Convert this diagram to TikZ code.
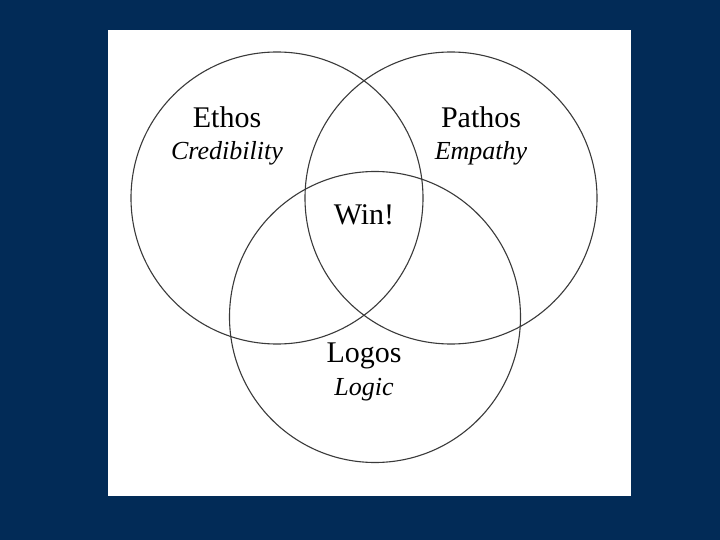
\documentclass[tikz,border=0pt]{standalone}
\usepackage{fontspec}
\setmainfont{Liberation Serif}
\definecolor{navy}{HTML}{022B57}
\definecolor{ring}{HTML}{3A3A3A}
\begin{document}
\begin{tikzpicture}[x=1pt,y=-1pt,
  ringstyle/.style={draw=ring,line width=1.1pt},
  titlestyle/.style={anchor=base,font=\fontsize{30}{33}\selectfont,inner sep=0pt},
  substyle/.style={anchor=base,font=\fontsize{26}{29}\selectfont\itshape,inner sep=0pt}]
\fill[navy] (0,0) rectangle (720,540);
\useasboundingbox (0,0) rectangle (720,540);
\fill[white] (108,30) rectangle (631,496);
\node[circle,ringstyle,minimum size=292pt,inner sep=0pt] (ethos) at (277,198) {};
\node[circle,ringstyle,minimum size=292pt,inner sep=0pt] (pathos) at (451,198) {};
\node[circle,ringstyle,minimum size=291pt,inner sep=0pt] (logos) at (375,317) {};
\node[titlestyle] (ethost) at (227,128) {Ethos};
\node[substyle] (ethoss) at (227,160) {Credibility};
\node[titlestyle] (pathost) at (481,128) {Pathos};
\node[substyle] (pathoss) at (481,160) {Empathy};
\node[titlestyle] (win) at (364,225) {Win!};
\node[titlestyle] (logost) at (364,362) {Logos};
\node[substyle] (logoss) at (364,395) {Logic};
\end{tikzpicture}
\end{document}
